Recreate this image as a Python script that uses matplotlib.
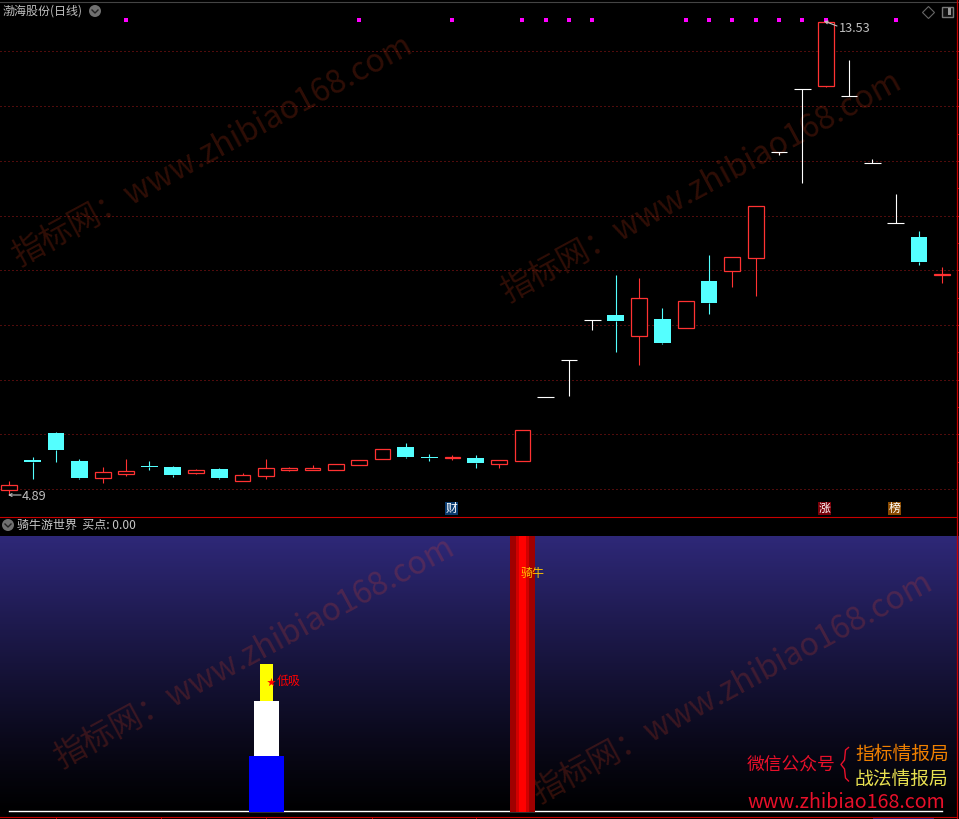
#!/usr/bin/env python3
"""Daily candles over a buy-signal indicator panel."""

import matplotlib as mpl

mpl.use("Agg")

import matplotlib.pyplot as plt
import numpy as np
from matplotlib.colors import LinearSegmentedColormap
from matplotlib.patches import Ellipse, FancyArrowPatch, Rectangle

opens = [4.99, 5.53, 6.02, 5.51, 5.20, 5.27, 5.42, 5.40, 5.29, 5.37, 5.15, 5.24, 5.35, 5.35,
         5.35, 5.44, 5.55, 5.77, 5.58, 5.57, 5.57, 5.46, 5.51, 6.68, 7.35, 8.09, 8.18, 7.80,
         8.11, 7.95, 8.80, 8.99, 9.22, 11.17, 12.31, 12.37, 12.18, 10.96, 9.86, 9.61, 8.92]
highs = [5.15, 5.59, 6.04, 5.55, 5.40, 5.55, 5.51, 5.42, 5.37, 5.38, 5.29, 5.55, 5.40, 5.44,
         5.46, 5.53, 5.73, 5.84, 5.64, 5.62, 5.62, 5.53, 6.08, 6.68, 7.35, 8.09, 8.91, 8.86,
         8.31, 8.44, 9.28, 9.24, 10.17, 11.17, 12.31, 13.53, 12.84, 11.03, 10.39, 9.72, 9.06]
lows = [4.89, 5.18, 5.49, 5.18, 5.11, 5.24, 5.35, 5.22, 5.27, 5.18, 5.15, 5.18, 5.33, 5.35,
        5.35, 5.44, 5.55, 5.57, 5.51, 5.53, 5.38, 5.38, 5.51, 6.68, 6.70, 7.91, 7.51, 7.27,
        7.65, 7.95, 8.20, 8.69, 8.53, 11.11, 10.60, 12.35, 12.18, 10.96, 9.86, 9.10, 8.77]
closes = [5.07, 5.49, 5.71, 5.20, 5.31, 5.33, 5.40, 5.26, 5.35, 5.20, 5.26, 5.38, 5.38, 5.38,
          5.46, 5.53, 5.73, 5.59, 5.57, 5.58, 5.48, 5.53, 6.08, 6.68, 7.35, 8.09, 8.07, 8.49,
          7.67, 8.44, 8.40, 9.24, 10.17, 11.17, 12.31, 13.53, 12.18, 10.96, 9.86, 9.15, 8.94]
signal_days = [5, 15, 19, 22, 23, 24, 25, 29, 30, 31, 32, 33, 34, 35, 38]
price_levels = [5, 6, 7, 8, 9, 10, 11, 12, 13]
price_ticks = [5.5, 6, 6.5, 7, 7.5, 8, 8.5, 9, 9.5, 10, 10.5, 11, 11.5, 12, 12.5, 13]
buy_line = [0.0] * 41
low_buy_day = 11
low_buy_blue = 20
low_buy_white = 40
low_buy_yellow = 53.5
low_buy_star = 47
ride_day = 22
ride_label = 86.5

W, H = 959, 819
RED = "#ff3232"
CYAN = "#54ffff"
XLIM = (-0.399, 40.716)
plt.rcParams["font.family"] = ["Noto Sans CJK SC", "DejaVu Sans"]


def panel(fig, top, bottom):
    return fig.add_axes([0, 1 - bottom / H, 1, (bottom - top) / H])


def px(x, y):
    return x / W, 1 - y / H


def fig_text(fig, x, y, s, **kw):
    kw.setdefault("ha", "left")
    kw.setdefault("va", "center")
    fig.text(*px(x, y), s, **kw)


def fig_line(fig, x0, y0, x1, y1, color, lw):
    (ax0, ay0), (ax1, ay1) = px(x0, y0), px(x1, y1)
    fig.add_artist(plt.Line2D([ax0, ax1], [ay0, ay1], color=color, lw=lw))


def watermark(ax, x, y):
    ax.text(*px(x, y), "指标网：www.zhibiao168.com", transform=ax.figure.transFigure, rotation=28.5,
            rotation_mode="anchor", ha="left", va="center", fontsize=23, color="#ff4a20",
            alpha=0.19, zorder=1.5, clip_on=True)


def draw_candles(ax):
    for i, (o, h, l, c) in enumerate(zip(opens, highs, lows, closes)):
        color = RED if c > o else CYAN if c < o else "white"
        top, bot = max(o, c), min(o, c)
        ax.vlines(i, top, h, color=color, lw=0.8, zorder=3, snap=True)
        ax.vlines(i, l, bot, color=color, lw=0.8, zorder=3, snap=True)
        if c == o:
            ax.hlines(c, i - 0.36, i + 0.36, color=color, lw=0.8, zorder=3, snap=True)
        elif c > o:
            ax.add_patch(Rectangle((i - 0.34, bot), 0.68, top - bot, fc="black", ec=color, lw=0.9, zorder=3))
        else:
            ax.add_patch(Rectangle((i - 0.36, bot), 0.72, top - bot, fc=color, ec="none", zorder=3))


def chevron_icon(fig, x, y):
    fig.add_artist(Ellipse(px(x, y), 12 / W, 12 / H, transform=fig.transFigure, fc="#707070", ec="none"))
    xs = [(x - 3) / W, x / W, (x + 3) / W]
    ys = [1 - (y - 1) / H, 1 - (y + 2) / H, 1 - (y - 1) / H]
    fig.add_artist(plt.Line2D(xs, ys, transform=fig.transFigure, color="#222222", lw=1))


def arrow(fig, tail, head):
    fig.add_artist(FancyArrowPatch(px(*tail), px(*head), transform=fig.transFigure, arrowstyle="->",
                                   mutation_scale=5, color="#c0c0c0", lw=0.8, shrinkA=0, shrinkB=0))


def main():
    fig = plt.figure(figsize=(W / 100, H / 100), dpi=100, facecolor="black")

    # price panel, 1 yuan is about 54.7 px
    ax = panel(fig, 0, 516)
    ax.set_facecolor("black")
    ax.set_xlim(*XLIM)
    ax.set_ylim(5 - 27 / 54.69, 5 + 489 / 54.69)
    ax.axis("off")
    for level in price_levels:
        ax.axhline(level, color="#a01818", lw=0.72, ls=(0, (1, 3)), zorder=1, snap=True)
    draw_candles(ax)
    ax.scatter(signal_days, [13.58] * len(signal_days), marker="s", s=8.3, color="#ff00ff", lw=0, zorder=4)
    watermark(ax, 14, 258)
    watermark(ax, 503, 294)

    # indicator panel
    low = panel(fig, 536, 816)
    low.axis("off")
    cmap = LinearSegmentedColormap.from_list("bg", ["#000000", "#2e2878"])
    low.imshow(np.linspace(1, 0, 256).reshape(-1, 1) ** 1.15, cmap=cmap, aspect="auto", extent=[0, 1, 0, 1],
               transform=low.transAxes, zorder=0)
    low.set_xlim(*XLIM)
    low.set_ylim(-5 / 2.75, 100)
    low.bar(low_buy_day + 0.03, low_buy_blue + 0.4, width=1.5, bottom=-0.4, color="#0000ff", zorder=3)
    low.bar(low_buy_day + 0.03, low_buy_white - low_buy_blue, width=1.07, bottom=low_buy_blue, color="white", zorder=3)
    low.bar(low_buy_day + 0.03, low_buy_yellow - low_buy_white, width=0.56, bottom=low_buy_white, color="#ffff00", zorder=3)
    for width, shade in [(1.07, "#a00000"), (0.56, "#d00000"), (0.3, "#ff0000")]:
        low.bar(ride_day, 102, width=width, bottom=-0.4, color=shade, zorder=3)
    low.plot(range(len(buy_line)), buy_line, color="white", lw=1, zorder=2.5)
    low.scatter(low_buy_day + 0.24, low_buy_star, marker="*", s=42, color="#ff0000", lw=0, zorder=4)
    low.text(low_buy_day + 0.47, low_buy_star, "低吸", color="#ff0000", fontsize=8.64, va="center", zorder=4)
    low.text(ride_day + 0.45, ride_label, "骑牛", color="#ffc400", fontsize=8.64, ha="center", va="center", zorder=4)
    watermark(low, 56, 760)
    watermark(low, 534, 795)

    # frame lines
    fig_line(fig, 0, 1.5, W, 1.5, "#444444", 0.8)
    fig_line(fig, 0, 516.5, 957, 516.5, "#c80000", 0.8)
    fig_line(fig, 0, 816.5, 957, 816.5, "#c80000", 0.8)
    fig_line(fig, 956.5, 0, 956.5, H, "#c80000", 0.9)
    for price in price_ticks:
        y = H - ax.transData.transform((0, price))[1]
        fig_line(fig, 956.5, y, W, y, "#c80000", 0.7)
    for x in (55.5, 160.5, 265.5, 371.5, 475.5):
        fig_line(fig, x, 817, x, H, "#c80000", 0.7)
    fig.add_artist(Rectangle(px(873, H), 61 / W, 2 / H, transform=fig.transFigure, fc="#20207a", ec="none"))

    # header text
    fig_text(fig, 3, 11, "渤海股份(日线)", fontsize=8.64, color="#c0c0c0")
    chevron_icon(fig, 95, 11)
    fig_text(fig, 17, 525, "骑牛游世界  买点: 0.00", fontsize=8.64, color="#c8c8c8")
    chevron_icon(fig, 8, 525)
    fig_text(fig, 839, 28, "13.53", fontsize=9.2, color="#c0c0c0")
    fig_text(fig, 22, 497, "4.89", fontsize=9.2, color="#c0c0c0")
    arrow(fig, (837, 26), (824, 21))
    arrow(fig, (21, 495), (8, 495))
    cx, cy = px(928, 11.5)
    fig.add_artist(plt.Line2D([cx], [cy], marker="D", ms=6.5, mfc="none", mec="#666666", mew=0.8, transform=fig.transFigure))
    fig.add_artist(Rectangle(px(941.5, 17), 11 / W, 10 / H, transform=fig.transFigure, fc="#111111", ec="#777777", lw=1))
    fig.add_artist(Rectangle(px(948, 15), 3 / W, 7 / H, transform=fig.transFigure, fc="#999999", ec="none"))
    for x, s, bg in [(451, "财", "#0a3c70"), (824.5, "涨", "#7a0008"), (894.5, "榜", "#8a4a00")]:
        fig.add_artist(Rectangle(px(x - 6.5, 515), 13 / W, 13 / H, transform=fig.transFigure, fc=bg, ec="none"))
        fig_text(fig, x, 508, s, ha="center", fontsize=8.5, color="white")

    # promo block, brace traced as a thin stroke
    fig_text(fig, 747, 765, "微信公众号", fontsize=12.8, color="#e8102a")
    brace = [(848.5, 747.5), (845.5, 750), (844.5, 760), (841, 764.5), (844.5, 769), (845.5, 778), (848.5, 781)]
    bx, by = zip(*[px(*p) for p in brace])
    fig.add_artist(plt.Line2D(bx, by, color="#e8102a", lw=1.0))
    fig_text(fig, 855, 754, "指标情报局", fontsize=13.5, color="#f08000")
    fig_text(fig, 855, 779, "战法情报局", fontsize=13.5, color="#e8e050")
    fig_text(fig, 747, 803, "www.zhibiao168.com", fontsize=14.15, color="#e8102a")

    fig.savefig("out.png", dpi=100, facecolor="black")
    plt.close(fig)


if __name__ == "__main__":
    main()
